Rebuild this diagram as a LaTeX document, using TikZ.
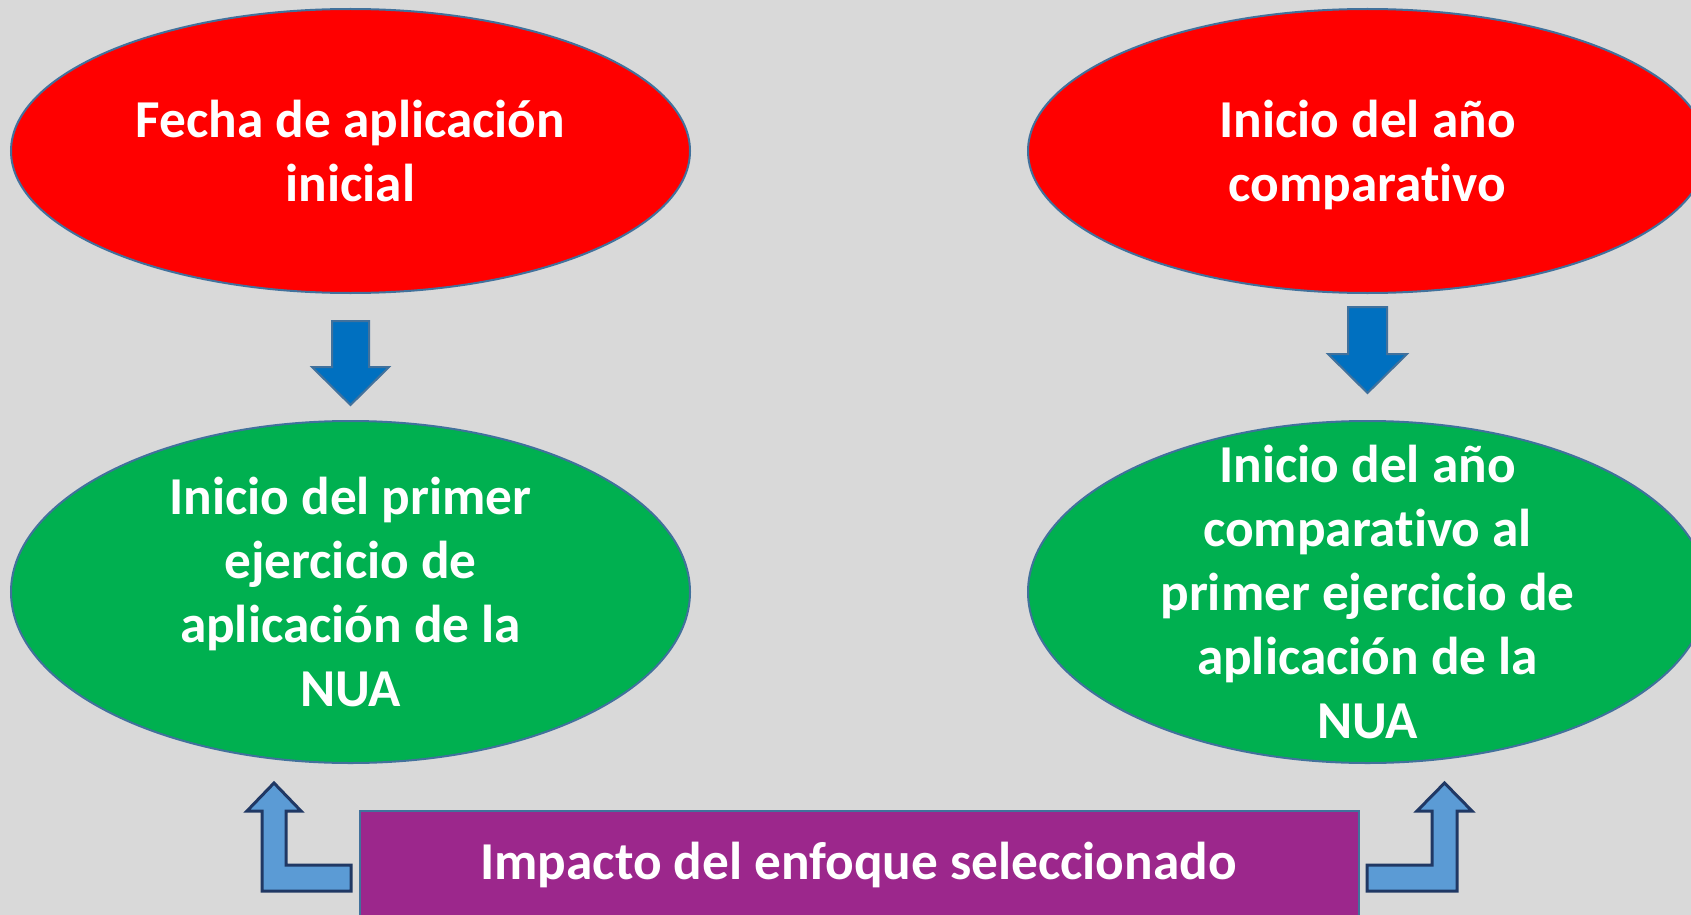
\documentclass[tikz,border=0pt]{standalone}
\usepackage{fontspec}
\setmainfont[Ligatures=NoCommon]{Carlito}
\usetikzlibrary{shapes.geometric}
\definecolor{bgc}{HTML}{D9D9D9}
\definecolor{redc}{HTML}{FF0000}
\definecolor{greenc}{HTML}{00B050}
\definecolor{purplec}{HTML}{9C278C}
\definecolor{edgec}{HTML}{41719C}
\definecolor{darrc}{HTML}{0070C0}
\definecolor{larrc}{HTML}{5B9BD5}
\definecolor{larredge}{HTML}{203864}
\tikzset{
  oval/.style={ellipse, draw=edgec, line width=2pt, minimum width=679pt, minimum height=284pt, inner sep=0pt},
  redoval/.style={oval, fill=redc},
  greenoval/.style={oval, fill=greenc, minimum height=342pt},
  txt/.style={text=white, align=center, font=\fontsize{53.3}{64}\selectfont\bfseries, inner sep=0pt},
  downarr/.style={fill=darrc, draw=edgec, line width=2pt, line join=miter},
  larr/.style={fill=larrc, draw=larredge, line width=3pt, line join=miter},
}
\begin{document}
\begin{tikzpicture}[x=1pt,y=-1pt]
\fill[bgc] (0,0) rectangle (1691,915);
\useasboundingbox (0,0) rectangle (1691,915);
\clip (0,0) rectangle (1691,915);
% ellipses
\node[redoval] (r1) at (350.5,151) {};
\node[txt] (t1) at (350.5,157) {\strut Fecha de aplicación\\inicial\strut};
\node[redoval] (r2) at (1367.5,151) {};
\node[txt] (t2) at (1367.5,157) {\strut Inicio del año\\comparativo\strut};
\node[greenoval] (g1) at (350.5,592) {};
\node[txt] (t3) at (350.5,598) {\strut Inicio del primer\\ejercicio de\\aplicación de la\\NUA\strut};
\node[greenoval] (g2) at (1367.5,592) {};
\node[txt] (t4) at (1367.5,598) {\strut Inicio del año\\comparativo al\\primer ejercicio de\\aplicación de la\\NUA\strut};
% purple box
\node[fill=purplec, draw=edgec, line width=2pt, minimum width=999pt, minimum height=140pt, anchor=north west, inner sep=0pt] (p) at (359,810) {};
\node[txt] (pt) at (858.5,867) {\strut Impacto del enfoque seleccionado};
% down arrows
\draw[downarr] (332,321) -- (369,321) -- (369,367) -- (389,367) -- (350.5,405) -- (312,367) -- (332,367) -- cycle;
\draw[downarr] (1348,307) -- (1387,307) -- (1387,354) -- (1407,354) -- (1367.5,393) -- (1328,354) -- (1348,354) -- cycle;
% L arrows
\draw[larr] (351,891) -- (262,891) -- (262,811) -- (247,811) -- (274,783) -- (301,811) -- (286,811) -- (286,865) -- (351,865) -- cycle;
\draw[larr] (1367,891) -- (1457,891) -- (1457,811) -- (1472,811) -- (1444.5,783) -- (1417,811) -- (1432,811) -- (1432,865) -- (1367,865) -- cycle;
\end{tikzpicture}
\end{document}
